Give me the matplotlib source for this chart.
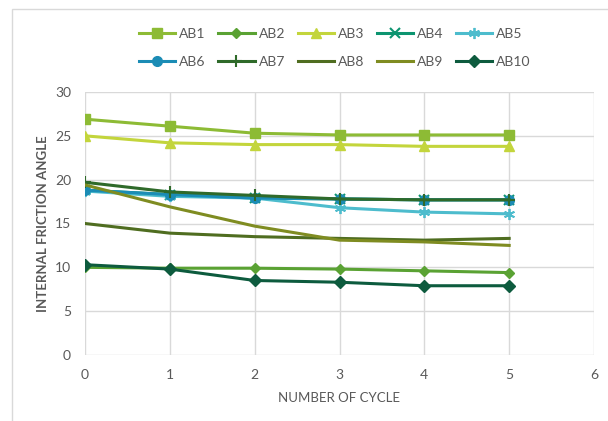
import matplotlib.pyplot as plt
from matplotlib.patches import Rectangle

plt.rcParams['font.family'] = ['Lato', 'DejaVu Sans']

# -- Cycle numbers and internal friction angle per sample
cycles = [0, 1, 2, 3, 4, 5]
ab1 = [26.9, 26.1, 25.3, 25.1, 25.1, 25.1]
ab2 = [10.0, 9.9, 9.9, 9.8, 9.6, 9.4]
ab3 = [25.0, 24.2, 24.0, 24.0, 23.8, 23.8]
ab4 = [18.8, 18.3, 17.9, 17.8, 17.7, 17.7]
ab5 = [18.7, 18.1, 17.9, 16.8, 16.3, 16.1]
ab6 = [18.8, 18.3, 17.9, 17.8, 17.7, 17.7]
ab7 = [19.7, 18.6, 18.2, 17.8, 17.7, 17.7]
ab8 = [15.0, 13.9, 13.5, 13.3, 13.1, 13.3]
ab9 = [19.4, 16.9, 14.7, 13.1, 12.9, 12.5]
ab10 = [10.3, 9.8, 8.5, 8.3, 7.9, 7.9]

labels = ["AB1", "AB2", "AB3", "AB4", "AB5", "AB6", "AB7", "AB8", "AB9", "AB10"]
series = [ab1, ab2, ab3, ab4, ab5, ab6, ab7, ab8, ab9, ab10]

# -- Line styles per sample (colour, marker, marker size)
styles = [
    ("#8DBB35", "s", 7),
    ("#5AA233", "D", 5),
    ("#C3D53C", "^", 7),
    ("#0C9470", "x", 7),
    ("#4DBCCD", "*", 0),
    ("#1B8CB5", "o", 7),
    ("#2F6A2A", "+", 9),
    ("#4F6D20", None, 0),
    ("#7F8C21", None, 0),
    ("#0D5B3E", "D", 6),
]

fig = plt.figure(figsize=(6.08, 4.21), dpi=100)
ax = fig.add_axes([85 / 608, 1 - 355 / 421, (594 - 85) / 608, (355 - 92) / 421])

# outer chart border
fig.patches.append(Rectangle((12 / 608, -0.1), 1.2, 1 - 9 / 421 + 0.1,
                             transform=fig.transFigure, fill=False,
                             edgecolor="#D9D9D9", linewidth=1))

handles = []
for name, vals, (color, marker, ms) in zip(labels, series, styles):
    if name == "AB5":
        h, = ax.plot(cycles, vals, color=color, linewidth=2.2, marker=(6, 2, 0),
                     markersize=8, markeredgewidth=1.3, label=name)
    elif marker in ("x", "+"):
        h, = ax.plot(cycles, vals, color=color, linewidth=2.2, marker=marker,
                     markersize=ms, markeredgewidth=1.5, label=name)
    else:
        h, = ax.plot(cycles, vals, color=color, linewidth=2.2, marker=marker,
                     markersize=ms, label=name)
    handles.append(h)

ax.set_xlim(0, 6)
ax.set_ylim(0, 30)
ax.set_xticks(range(0, 7))
ax.set_yticks(range(0, 31, 5))
ax.grid(True, color="#D9D9D9", linewidth=1)
ax.set_axisbelow(True)
for s in ax.spines.values():
    s.set_visible(False)
ax.tick_params(length=0, labelsize=10, colors="#595959", pad=10)
ax.tick_params(axis="y", pad=10)

ax.set_xlabel("NUMBER OF CYCLE", fontsize=9.5, color="#595959", labelpad=8)
ax.set_ylabel("INTERNAL FRICTION ANGLE", fontsize=9.5, color="#595959",
              fontweight="bold", labelpad=4)

# legend fills column by column, so interleave the two rows
order = [0, 5, 1, 6, 2, 7, 3, 8, 4, 9]
fig.legend([handles[i] for i in order], [labels[i] for i in order],
           loc="center", bbox_to_anchor=(335 / 608, 1 - 48 / 421), ncol=5,
           frameon=False, fontsize=10, labelcolor="#595959",
           handlelength=2.6, handletextpad=0.3, columnspacing=0.9,
           labelspacing=1.2)

fig.savefig("out.png", dpi=100)
